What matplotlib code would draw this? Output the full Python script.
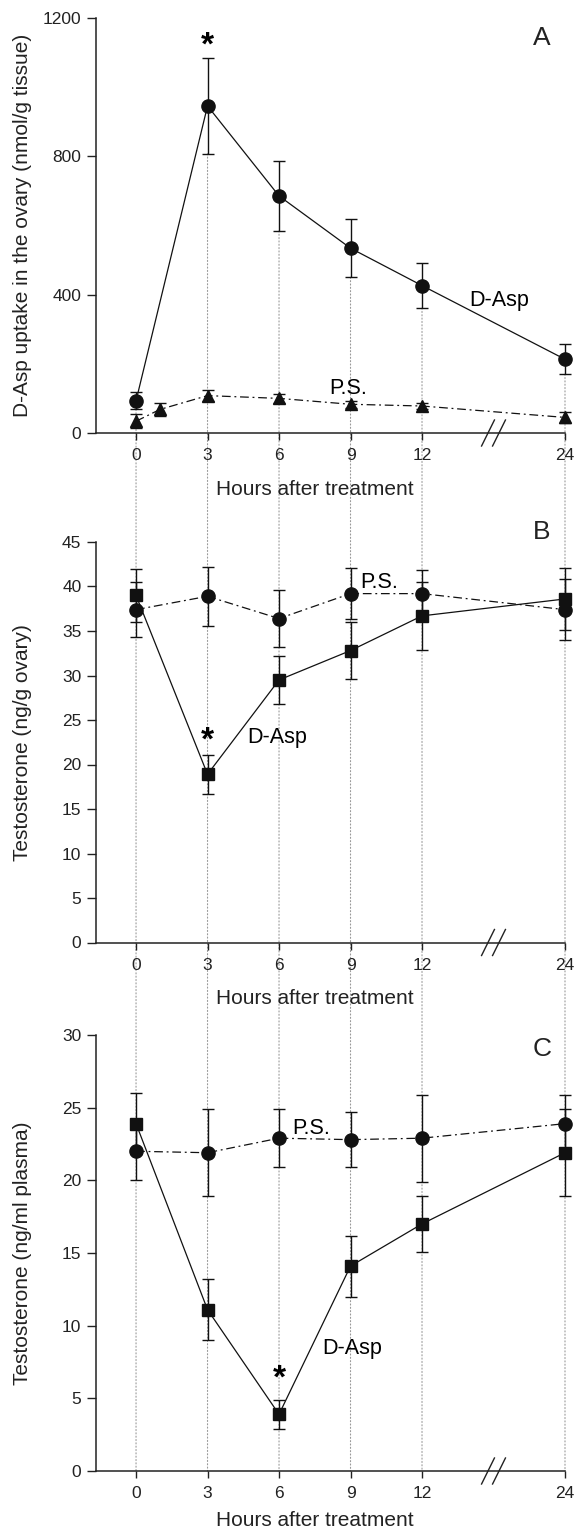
import matplotlib
matplotlib.use("Agg")
import matplotlib.pyplot as plt
from matplotlib.patches import ConnectionPatch
from matplotlib.transforms import blended_transform_factory

plt.rcParams['font.family'] = ['Liberation Sans', 'DejaVu Sans']

# ---- data ----
hours = [0, 3, 6, 9, 12, 24]
hour_labels = ['0', '3', '6', '9', '12', '24']

# A: D-Asp uptake in the ovary (nmol/g tissue)
a_dasp = [93, 945, 685, 534, 426, 213]
a_dasp_err = [25, 138, 101, 84, 65, 43]
a_ps_hours = [0, 1, 3, 6, 9, 12, 24]
a_ps = [34, 68, 108, 100, 83, 78, 45]
a_ps_err = [20, 18, 16, 12, 10, 8, 16]

# B: testosterone (ng/g ovary)
b_dasp = [39.0, 18.9, 29.5, 32.8, 36.7, 38.6]
b_dasp_err = [3.0, 2.2, 2.7, 3.2, 3.8, 3.5]
b_ps = [37.4, 38.9, 36.4, 39.2, 39.2, 37.4]
b_ps_err = [3.1, 3.3, 3.2, 2.9, 2.6, 3.4]

# C: testosterone (ng/ml plasma)
c_dasp = [23.9, 11.1, 3.9, 14.1, 17.0, 21.9]
c_dasp_err = [2.1, 2.1, 1.0, 2.1, 1.95, 3.0]
c_ps = [22.0, 21.9, 22.9, 22.8, 22.9, 23.9]
c_ps_err = [2.0, 3.0, 2.0, 1.9, 3.0, 2.0]

W, H = 574, 1532
X_LEFT, X_RIGHT = 96, 565


def hpos(h):
    # broken time axis: 3 h per unit up to 12 h, then 24 h sits two units on
    return h / 3.0 if h <= 12 else 4 + (h - 12) / 6.0


fig = plt.figure(figsize=(W / 100, H / 100), dpi=100)


def make_axes(top_px, bottom_px):
    rect = [X_LEFT / W, 1 - bottom_px / H, (X_RIGHT - X_LEFT) / W, (bottom_px - top_px) / H]
    ax = fig.add_axes(rect)
    ax.set_facecolor('none')
    return ax, bottom_px - top_px


def style(ax, h_px, ylim, yticks, ylabel, letter, letter_y, xlabel_gap=47):
    ax.set_xlim(-0.56, hpos(24))
    ax.set_ylim(*ylim)
    ax.set_yticks(yticks)
    ax.set_xticks([hpos(h) for h in hours])
    ax.set_xticklabels(hour_labels)
    for s in ['top', 'right']:
        ax.spines[s].set_visible(False)
    for s in ['left', 'bottom']:
        ax.spines[s].set_linewidth(1.1)
        ax.spines[s].set_color('#222222')
    ax.tick_params(axis='y', direction='out', length=6.5, width=1, labelsize=12.5, pad=4, colors='#222222')
    ax.tick_params(axis='x', direction='out', length=5, width=1, labelsize=12.5, pad=6, colors='#222222')
    ax.set_ylabel(ylabel, fontsize=15, color='#222222')
    ax.yaxis.set_label_coords(-64 / (X_RIGHT - X_LEFT), 0.5)
    ax.set_xlabel('Hours after treatment', fontsize=15, color='#222222')
    ax.xaxis.set_label_coords(0.467, -xlabel_gap / h_px)
    ax.text(0.951, letter_y, letter, transform=ax.transAxes, fontsize=19,
            ha='center', va='center', color='#222222')
    # axis break marks
    tr = blended_transform_factory(ax.transData, ax.transAxes)
    dy = 13 / h_px
    for dx in (-0.077, 0.077):
        ax.plot([hpos(18) + dx - 0.09, hpos(18) + dx + 0.09], [-dy, dy],
                transform=tr, color='#222222', lw=1, clip_on=False)


def series(ax, xs, ys, err, marker, ms, ls):
    ax.errorbar([hpos(h) for h in xs], ys, yerr=err, fmt=marker, ms=ms,
                color='#111111', ecolor='#111111', elinewidth=1, capsize=4,
                capthick=1, linestyle=ls, lw=0.9, clip_on=False, zorder=3)


dashdot = (0, (7, 3, 1.5, 3))

# ---- panel A ----
axA, hA = make_axes(17.7, 433)
series(axA, hours, a_dasp, a_dasp_err, 'o', 9.5, '-')
series(axA, a_ps_hours, a_ps, a_ps_err, '^', 9, dashdot)
style(axA, hA, (0, 1200), [0, 400, 800, 1200],
      'D-Asp uptake in the ovary (nmol/g tissue)', 'A', 0.952)
axA.text(hpos(3), 1118, '*', fontsize=24, fontweight='bold', ha='center', va='center')
axA.text(5.08, 384, 'D-Asp', fontsize=15.5, ha='center', va='center')
axA.text(2.97, 128, 'P.S.', fontsize=15.5, ha='center', va='center')

# ---- panel B ----
axB, hB = make_axes(542, 942.5)
series(axB, hours, b_ps, b_ps_err, 'o', 9.5, dashdot)
series(axB, hours, b_dasp, b_dasp_err, 's', 8.5, '-')
style(axB, hB, (0, 45), list(range(0, 46, 5)),
      'Testosterone (ng/g ovary)', 'B', 1.026)
axB.text(hpos(3), 22.6, '*', fontsize=24, fontweight='bold', ha='center', va='center')
axB.text(1.98, 23.0, 'D-Asp', fontsize=15.5, ha='center', va='center')
axB.text(3.40, 40.4, 'P.S.', fontsize=15.5, ha='center', va='center')

# ---- panel C ----
axC, hC = make_axes(1035, 1471)
series(axC, hours, c_ps, c_ps_err, 'o', 9.5, dashdot)
series(axC, hours, c_dasp, c_dasp_err, 's', 8.5, '-')
style(axC, hC, (0, 30), list(range(0, 31, 5)),
      'Testosterone (ng/ml plasma)', 'C', 0.967, xlabel_gap=40)
axC.text(hpos(6), 6.3, '*', fontsize=24, fontweight='bold', ha='center', va='center')
axC.text(3.02, 8.4, 'D-Asp', fontsize=15.5, ha='center', va='center')
axC.text(2.45, 23.6, 'P.S.', fontsize=15.5, ha='center', va='center')

# dotted guides running from panel A down to the x axis of panel C
for h, v, e in zip(hours, a_dasp, a_dasp_err):
    con = ConnectionPatch(xyA=(hpos(h), v - e), coordsA=axA.transData,
                          xyB=(hpos(h), 0), coordsB=axC.transData,
                          linestyle=(0, (1, 2)), color='#9a9a9a', lw=0.8, zorder=-1)
    fig.add_artist(con)

fig.savefig('out.png', dpi=100, facecolor='white')
